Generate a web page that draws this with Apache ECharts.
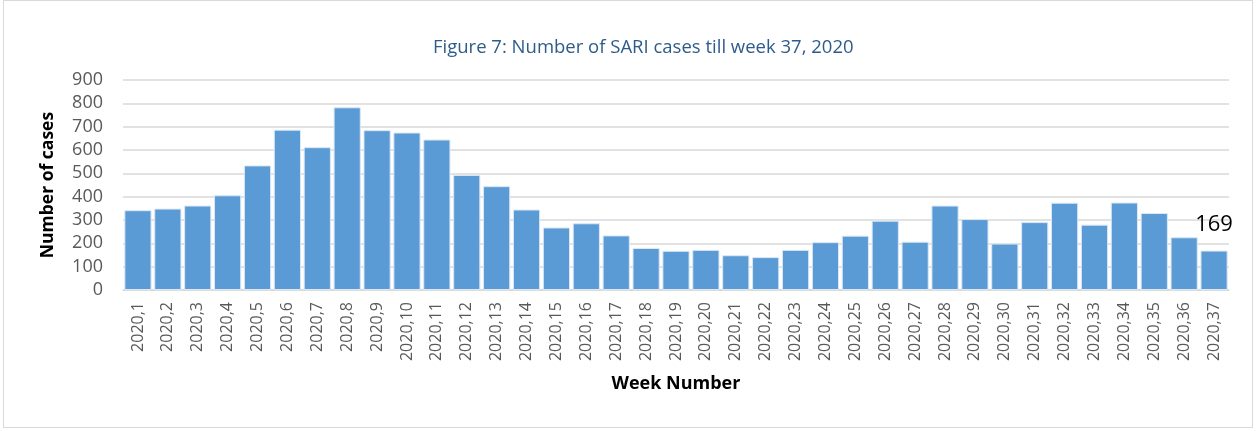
<!DOCTYPE html>
<html>
<head>
<meta charset="utf-8">
<script src="https://cdn.jsdelivr.net/npm/echarts@6/dist/echarts.min.js"></script>
<style>
  html, body { margin: 0; padding: 0; background: #fff; }
  #chart { position: absolute; left: 3px; top: 0px; width: 1250px; height: 428px; border: 1px solid #d9d9d9; box-sizing: border-box; }
</style>
</head>
<body>
<div id="chart"></div>
<script>
const titleText = 'Figure 7: Number of SARI cases till week 37, 2020';
const weeks = ['2020,1','2020,2','2020,3','2020,4','2020,5','2020,6','2020,7','2020,8','2020,9','2020,10',
  '2020,11','2020,12','2020,13','2020,14','2020,15','2020,16','2020,17','2020,18','2020,19','2020,20',
  '2020,21','2020,22','2020,23','2020,24','2020,25','2020,26','2020,27','2020,28','2020,29','2020,30',
  '2020,31','2020,32','2020,33','2020,34','2020,35','2020,36','2020,37'];
const cases = [342, 349, 362, 406, 534, 687, 612, 783, 685, 675,
  645, 493, 445, 345, 268, 286, 234, 180, 168, 172,
  149, 141, 172, 205, 233, 297, 207, 362, 304, 199,
  291, 374, 280, 375, 330, 226, 169];
const yTicks = [0, 100, 200, 300, 400, 500, 600, 700, 800, 900];

const chart = echarts.init(document.getElementById('chart'));
const font = 'Open Sans, Noto Sans, sans-serif';
chart.setOption({
  animation: false,
  title: {
    text: titleText,
    left: 424,
    top: 32,
    textStyle: { fontFamily: font, fontSize: 18.5, fontWeight: 'normal', color: '#2E5C8A' }
  },
  grid: { left: 119, right: 23, top: 79, bottom: 137, containLabel: false },
  xAxis: {
    type: 'category',
    data: weeks,
    name: 'Week Number',
    nameLocation: 'middle',
    nameGap: 85,
    nameTextStyle: { fontFamily: font, fontSize: 18, fontWeight: 'bold', color: '#000' },
    axisLine: { lineStyle: { color: '#d9d9d9', width: 1.5 } },
    axisTick: { show: false },
    axisLabel: { rotate: 90, interval: 0, fontFamily: font, fontSize: 16, color: '#595959', margin: 12 }
  },
  yAxis: {
    type: 'value',
    min: yTicks[0],
    max: yTicks[yTicks.length - 1],
    interval: 100,
    name: 'Number of cases',
    nameLocation: 'middle',
    nameGap: 66,
    nameTextStyle: { fontFamily: font, fontSize: 17.5, fontWeight: 'bold', color: '#000' },
    axisLine: { show: false },
    axisTick: { show: false },
    axisLabel: { fontFamily: font, fontSize: 18, color: '#595959', margin: 20 },
    splitLine: { lineStyle: { color: '#d9d9d9', width: 1.5 } }
  },
  series: [{
    type: 'bar',
    data: cases.map((v, i) => i === cases.length - 1
      ? { value: v, label: { show: true, position: 'top', distance: 15, fontFamily: font, fontSize: 22, color: '#000' } }
      : v),
    barCategoryGap: '9%',
    itemStyle: { color: '#5B9BD5', borderColor: '#dbe8f5', borderWidth: 1 }
  }]
});
</script>
</body>
</html>
